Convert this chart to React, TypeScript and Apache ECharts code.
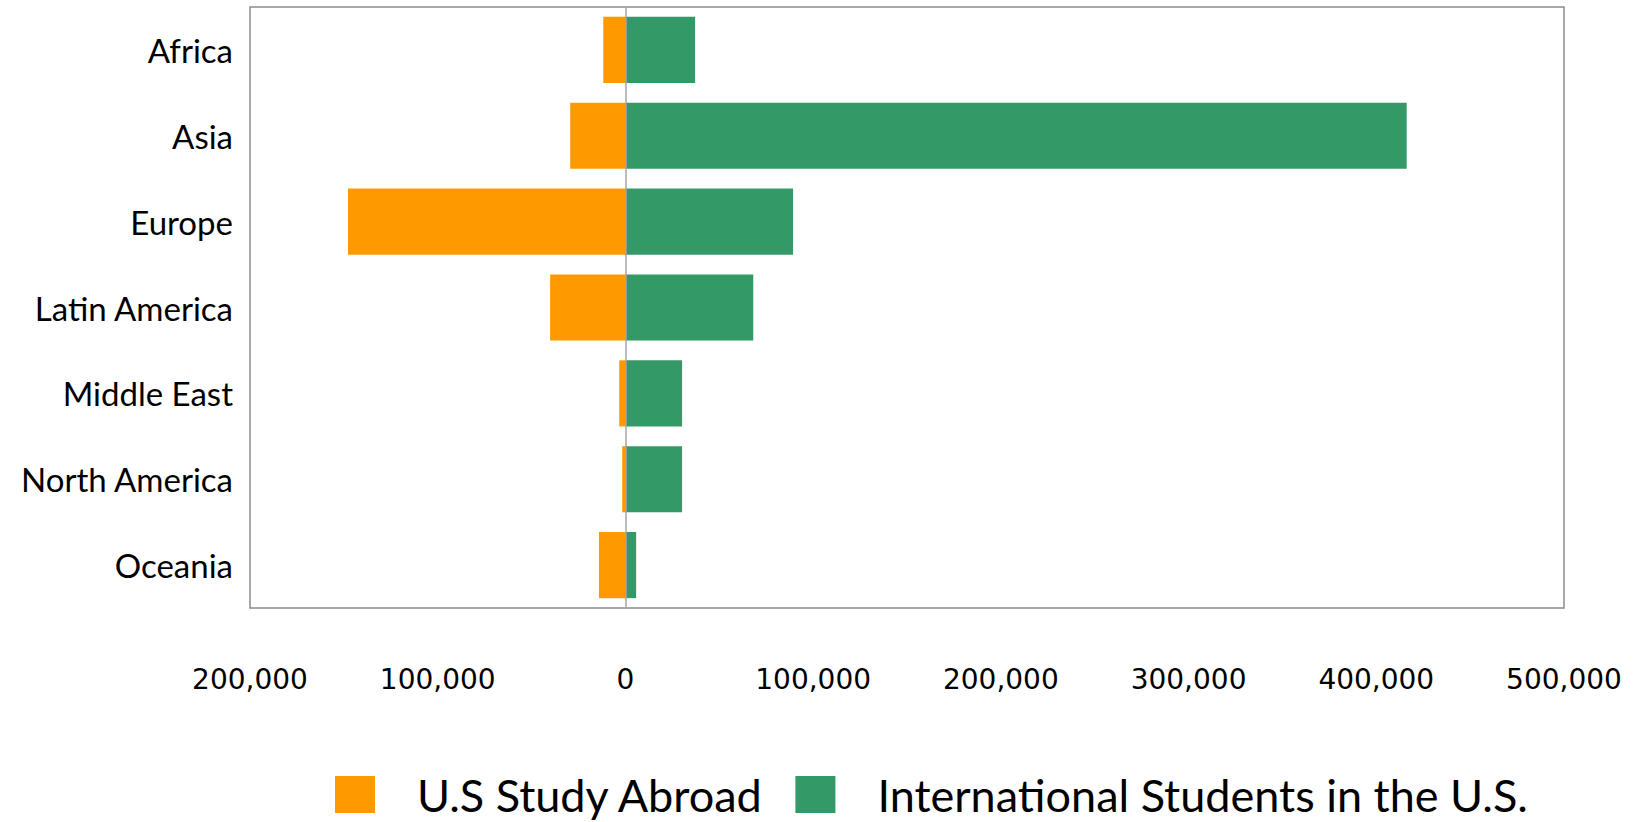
import React, { useEffect, useRef } from "react";
import * as echarts from "echarts";

const categories = ["Africa", "Asia", "Europe", "Latin America", "Middle East", "North America", "Oceania"];
const studyAbroad = [-11800, -29400, -147800, -40100, -3300, -1700, -14100];
const internationalStudents = [37100, 416200, 89300, 68100, 30200, 30200, 5700];
const seriesNames = ["U.S Study Abroad", "International Students in the U.S."];
const axisMin = -200000;
const axisMax = 500000;
const axisInterval = 100000;

export default function App() {
  const ref = useRef<HTMLDivElement>(null);
  useEffect(() => {
    document.body.style.margin = "0";
    const chart = echarts.init(ref.current!, null, { renderer: "svg" });
    chart.setOption({
      animation: false,
      backgroundColor: "#ffffff",
      grid: {
        left: 250,
        right: 79,
        top: 7,
        bottom: 214,
        show: true,
        borderColor: "#8c8c8c",
        borderWidth: 1.5,
        containLabel: false,
        outerBoundsMode: "none",
      },
      legend: {
        left: 335,
        top: 772,
        itemWidth: 40,
        itemHeight: 37,
        itemGap: 31,
        icon: "rect",
        padding: 0,
        textStyle: {
          fontFamily: "Lato",
          fontSize: 45,
          lineHeight: 40,
          color: "#000",
          padding: [0, 0, 0, 37],
        },
        data: seriesNames,
      },
      xAxis: {
        type: "value",
        min: axisMin,
        max: axisMax,
        interval: axisInterval,
        axisLine: { show: false },
        axisTick: { show: false },
        splitLine: { show: false },
        axisLabel: {
          margin: 57,
          fontFamily: "DejaVu Sans",
          fontSize: 28,
          color: "#000",
          formatter: (v: number) => Math.abs(v).toLocaleString("en-US"),
        },
      },
      yAxis: {
        type: "category",
        data: categories,
        inverse: true,
        axisLine: { show: false },
        axisTick: { show: false },
        splitLine: { show: false },
        axisLabel: {
          margin: 17,
          fontFamily: "Lato",
          fontSize: 33,
          color: "#000",
          padding: [8, 0, 0, 0],
        },
      },
      series: [
        {
          name: seriesNames[0],
          type: "bar",
          stack: "total",
          data: studyAbroad,
          barCategoryGap: "23%",
          itemStyle: { color: "#ff9900" },
          markLine: {
            silent: true,
            symbol: "none",
            label: { show: false },
            lineStyle: { color: "#a6a6a6", width: 1.5, type: "solid" },
            data: [{ xAxis: 0 }],
            z: 10,
          },
        },
        {
          name: seriesNames[1],
          type: "bar",
          stack: "total",
          data: internationalStudents,
          barCategoryGap: "23%",
          itemStyle: { color: "#339966" },
        },
      ],
    });
    return () => chart.dispose();
  }, []);
  return <div ref={ref} style={{ position: "absolute", left: 0, top: 0, width: 1643, height: 822 }} />;
}
